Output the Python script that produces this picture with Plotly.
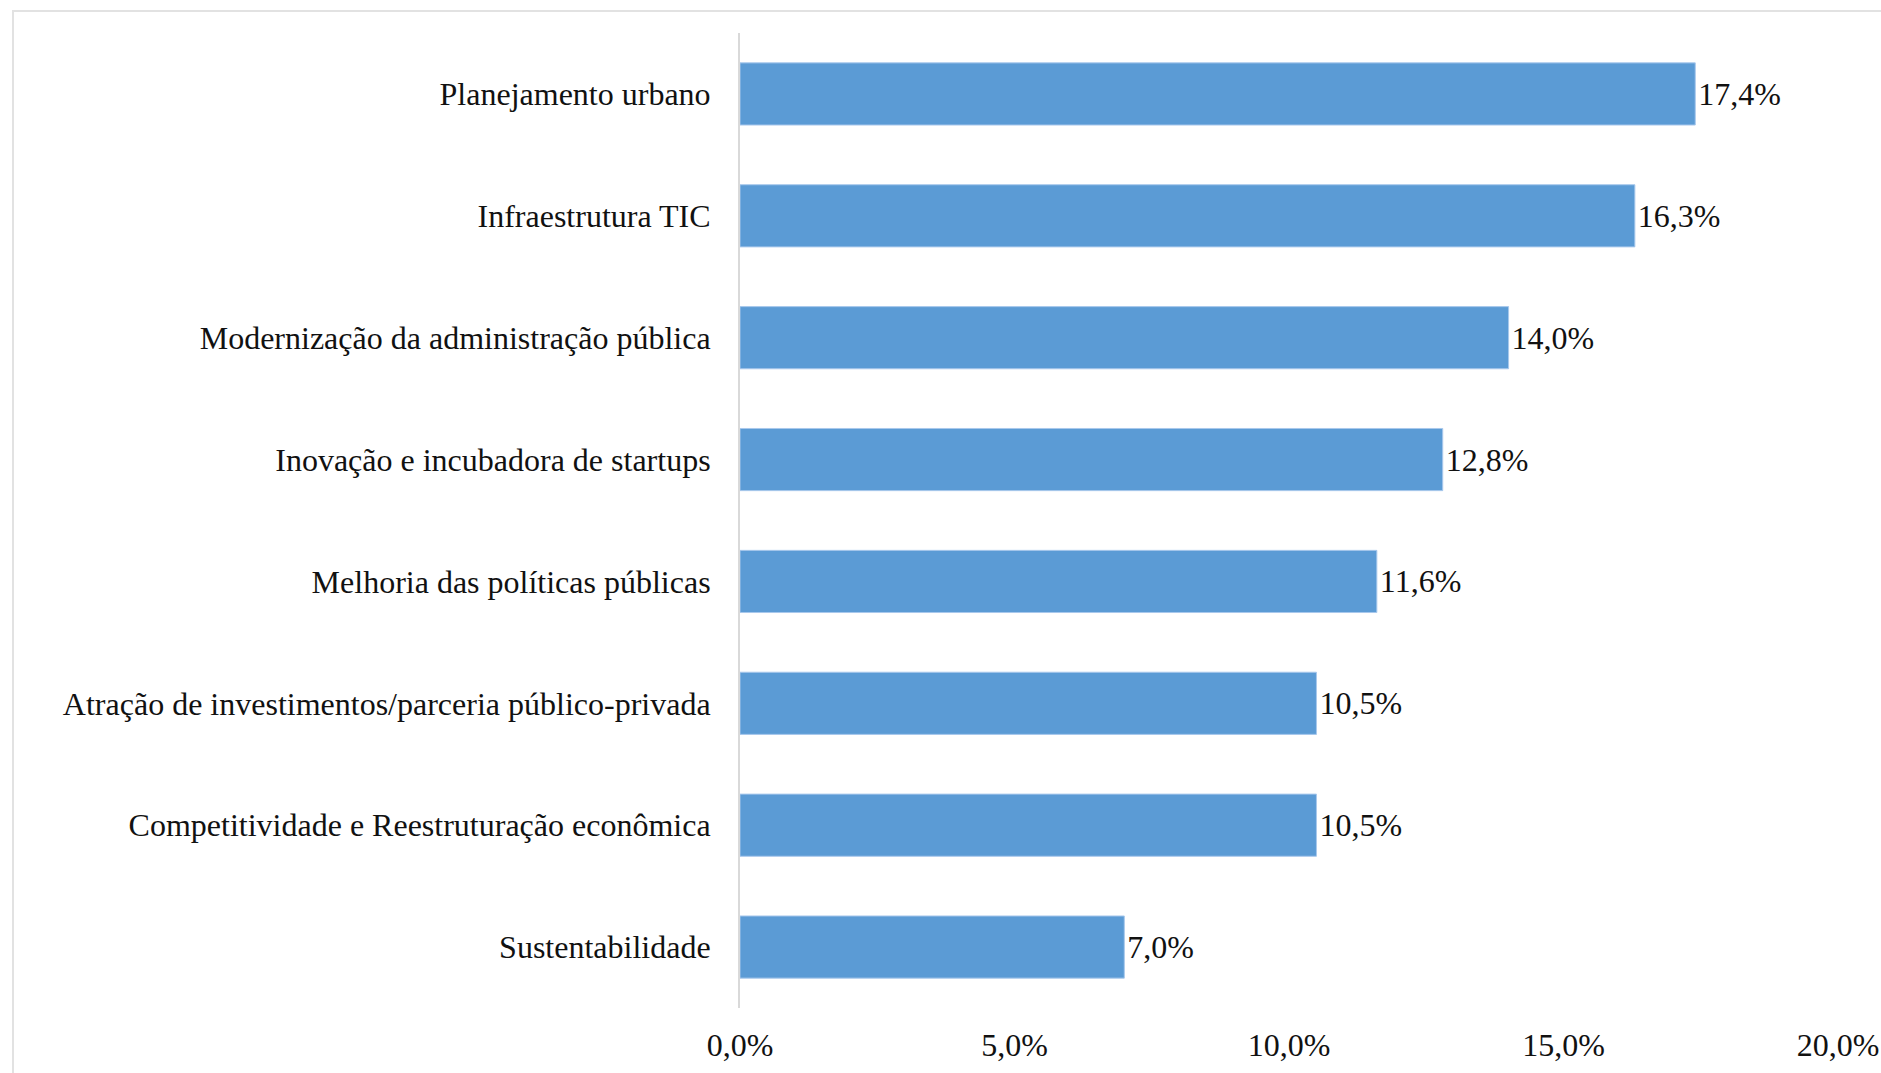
import plotly.graph_objects as go

# Categories listed top to bottom, with their shares (%)
categories = [
    "Planejamento urbano",
    "Infraestrutura TIC",
    "Modernização da administração pública",
    "Inovação e incubadora de startups",
    "Melhoria das políticas públicas",
    "Atração de investimentos/parceria público-privada",
    "Competitividade e Reestruturação econômica",
    "Sustentabilidade",
]
values = [17.4, 16.3, 14.0, 12.8, 11.6, 10.5, 10.5, 7.0]
x_ticks = [0, 5, 10, 15, 20]

FONT = "Liberation Serif, Times New Roman, serif"
BAR_COLOR = "#5B9BD5"
W, H = 1881, 1073
L, R, T, B = 740, 43, 33, 65


def pct(v):
    """Format a percentage with a decimal comma, e.g. 17,4%."""
    return f"{v:.1f}%".replace(".", ",")


labels = [pct(v) for v in values]
x_tick_text = [pct(v) for v in x_ticks]

fig = go.Figure(
    go.Bar(
        x=values,
        y=categories,
        orientation="h",
        marker=dict(color=BAR_COLOR, line=dict(color="#a8c8ec", width=1)),
        text=labels,
        textposition="outside",
        textfont=dict(family=FONT, size=32, color="#111111"),
        constraintext="none",
        cliponaxis=False,
        hoverinfo="skip",
    )
)

# Light frame around the chart (right and bottom sides fall outside the page)
pw, ph = W - L - R, H - T - B
fig.add_shape(
    type="rect",
    xref="paper", yref="paper",
    x0=(13 - L) / pw, x1=(W + 20 - L) / pw,
    y0=-(H + 20 - (H - B)) / ph, y1=(H - B - 11) / ph,
    line=dict(color="#e2e2e2", width=2),
    fillcolor="rgba(0,0,0,0)",
    layer="below",
)

fig.update_layout(
    width=W,
    height=H,
    margin=dict(l=L, r=R, t=T, b=B, autoexpand=False),
    paper_bgcolor="white",
    plot_bgcolor="white",
    bargap=0.49,
    showlegend=False,
    font=dict(family=FONT, size=32, color="#111111"),
)

fig.update_xaxes(
    range=[0, 20],
    tickmode="array",
    tickvals=x_ticks,
    ticktext=x_tick_text,
    showgrid=False,
    zeroline=False,
    showline=False,
    ticks="",
    automargin=False,
    ticklabelstandoff=15,
    tickfont=dict(family=FONT, size=32, color="#111111"),
)

fig.update_yaxes(
    autorange="reversed",
    showgrid=False,
    zeroline=False,
    showline=True,
    linecolor="#d9d9d9",
    linewidth=2,
    ticks="",
    automargin=False,
    ticklabelstandoff=21,
    tickfont=dict(family=FONT, size=32, color="#111111"),
)

fig.write_html("out.html")
